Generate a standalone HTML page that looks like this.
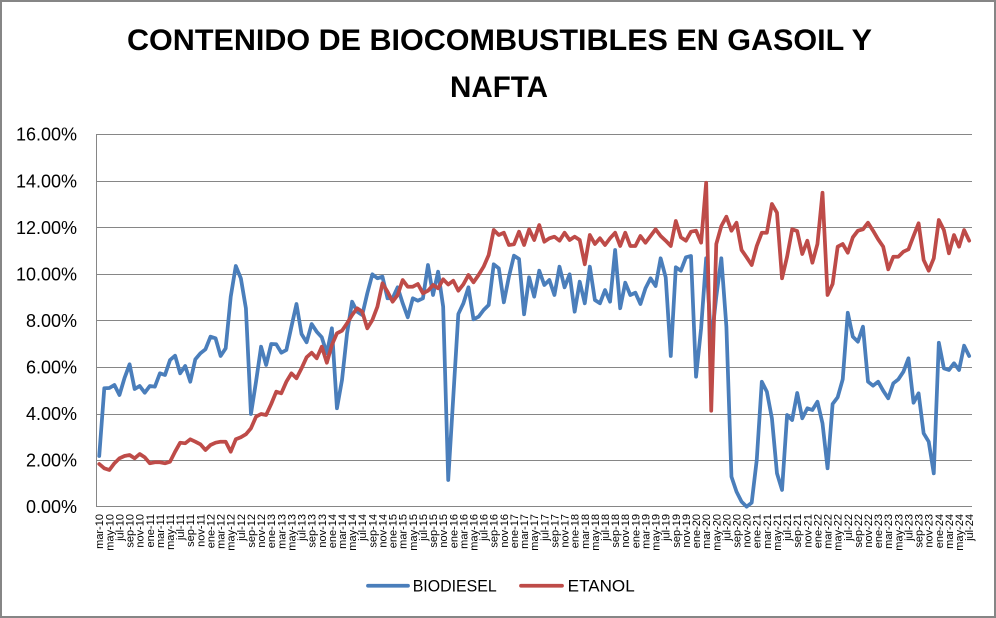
<!DOCTYPE html>
<html>
<head>
<meta charset="utf-8">
<style>
html,body{margin:0;padding:0;background:#fff;}
#c{position:relative;width:996px;height:618px;overflow:hidden;background:#fff;}
svg{position:absolute;left:0;top:0;}
</style>
</head>
<body>
<div id="c">
<svg width="996" height="618" viewBox="0 0 996 618" xmlns="http://www.w3.org/2000/svg">
<rect x="1" y="1" width="994" height="616" fill="#fff" stroke="#868686" stroke-width="2"/>
<g font-family="Liberation Sans, Arial, sans-serif" font-weight="bold" font-size="30" fill="#000" text-anchor="middle">
<text x="499.5" y="50" textLength="745" lengthAdjust="spacingAndGlyphs">CONTENIDO DE BIOCOMBUSTIBLES EN GASOIL Y</text>
<text x="499" y="97" textLength="98" lengthAdjust="spacingAndGlyphs">NAFTA</text>
</g>
<g stroke="#868686" stroke-width="1" shape-rendering="crispEdges">
<line x1="96.5" y1="134.5" x2="972" y2="134.5"/>
<line x1="96.5" y1="181.5" x2="972" y2="181.5"/>
<line x1="96.5" y1="227.5" x2="972" y2="227.5"/>
<line x1="96.5" y1="274.5" x2="972" y2="274.5"/>
<line x1="96.5" y1="320.5" x2="972" y2="320.5"/>
<line x1="96.5" y1="367.5" x2="972" y2="367.5"/>
<line x1="96.5" y1="414.5" x2="972" y2="414.5"/>
<line x1="96.5" y1="460.5" x2="972" y2="460.5"/>
<line x1="96.5" y1="506.5" x2="972" y2="506.5"/>
<line x1="96.5" y1="134" x2="96.5" y2="507"/>
</g>
<g font-family="Liberation Sans, Arial, sans-serif" font-size="18" fill="#000" text-anchor="end">
<text x="77" y="140.7">16.00%</text>
<text x="77" y="187.3">14.00%</text>
<text x="77" y="233.8">12.00%</text>
<text x="77" y="280.4">10.00%</text>
<text x="77" y="326.9">8.00%</text>
<text x="77" y="373.5">6.00%</text>
<text x="77" y="420">4.00%</text>
<text x="77" y="466.6">2.00%</text>
<text x="77" y="513.1">0.00%</text>
</g>
<g font-family="Liberation Sans, Arial, sans-serif" font-size="11" fill="#000" text-anchor="end">
<text transform="translate(103.2,514) rotate(-90)">mar-10</text>
<text transform="translate(113.3,514) rotate(-90)">may-10</text>
<text transform="translate(123.5,514) rotate(-90)">jul-10</text>
<text transform="translate(133.6,514) rotate(-90)">sep-10</text>
<text transform="translate(143.7,514) rotate(-90)">nov-10</text>
<text transform="translate(153.8,514) rotate(-90)">ene-11</text>
<text transform="translate(163.9,514) rotate(-90)">mar-11</text>
<text transform="translate(174.0,514) rotate(-90)">may-11</text>
<text transform="translate(184.1,514) rotate(-90)">jul-11</text>
<text transform="translate(194.2,514) rotate(-90)">sep-11</text>
<text transform="translate(204.4,514) rotate(-90)">nov-11</text>
<text transform="translate(214.5,514) rotate(-90)">ene-12</text>
<text transform="translate(224.6,514) rotate(-90)">mar-12</text>
<text transform="translate(234.7,514) rotate(-90)">may-12</text>
<text transform="translate(244.8,514) rotate(-90)">jul-12</text>
<text transform="translate(254.9,514) rotate(-90)">sep-12</text>
<text transform="translate(265.1,514) rotate(-90)">nov-12</text>
<text transform="translate(275.2,514) rotate(-90)">ene-13</text>
<text transform="translate(285.3,514) rotate(-90)">mar-13</text>
<text transform="translate(295.4,514) rotate(-90)">may-13</text>
<text transform="translate(305.5,514) rotate(-90)">jul-13</text>
<text transform="translate(315.6,514) rotate(-90)">sep-13</text>
<text transform="translate(325.8,514) rotate(-90)">nov-13</text>
<text transform="translate(335.9,514) rotate(-90)">ene-14</text>
<text transform="translate(346.0,514) rotate(-90)">mar-14</text>
<text transform="translate(356.1,514) rotate(-90)">may-14</text>
<text transform="translate(366.2,514) rotate(-90)">jul-14</text>
<text transform="translate(376.3,514) rotate(-90)">sep-14</text>
<text transform="translate(386.4,514) rotate(-90)">nov-14</text>
<text transform="translate(396.6,514) rotate(-90)">ene-15</text>
<text transform="translate(406.7,514) rotate(-90)">mar-15</text>
<text transform="translate(416.8,514) rotate(-90)">may-15</text>
<text transform="translate(426.9,514) rotate(-90)">jul-15</text>
<text transform="translate(437.0,514) rotate(-90)">sep-15</text>
<text transform="translate(447.1,514) rotate(-90)">nov-15</text>
<text transform="translate(457.3,514) rotate(-90)">ene-16</text>
<text transform="translate(467.4,514) rotate(-90)">mar-16</text>
<text transform="translate(477.5,514) rotate(-90)">may-16</text>
<text transform="translate(487.6,514) rotate(-90)">jul-16</text>
<text transform="translate(497.7,514) rotate(-90)">sep-16</text>
<text transform="translate(507.8,514) rotate(-90)">nov-16</text>
<text transform="translate(518.0,514) rotate(-90)">ene-17</text>
<text transform="translate(528.1,514) rotate(-90)">mar-17</text>
<text transform="translate(538.2,514) rotate(-90)">may-17</text>
<text transform="translate(548.3,514) rotate(-90)">jul-17</text>
<text transform="translate(558.4,514) rotate(-90)">sep-17</text>
<text transform="translate(568.5,514) rotate(-90)">nov-17</text>
<text transform="translate(578.7,514) rotate(-90)">ene-18</text>
<text transform="translate(588.8,514) rotate(-90)">mar-18</text>
<text transform="translate(598.9,514) rotate(-90)">may-18</text>
<text transform="translate(609.0,514) rotate(-90)">jul-18</text>
<text transform="translate(619.1,514) rotate(-90)">sep-18</text>
<text transform="translate(629.2,514) rotate(-90)">nov-18</text>
<text transform="translate(639.4,514) rotate(-90)">ene-19</text>
<text transform="translate(649.5,514) rotate(-90)">mar-19</text>
<text transform="translate(659.6,514) rotate(-90)">may-19</text>
<text transform="translate(669.7,514) rotate(-90)">jul-19</text>
<text transform="translate(679.8,514) rotate(-90)">sep-19</text>
<text transform="translate(689.9,514) rotate(-90)">nov-19</text>
<text transform="translate(700.0,514) rotate(-90)">ene-20</text>
<text transform="translate(710.2,514) rotate(-90)">mar-20</text>
<text transform="translate(720.3,514) rotate(-90)">may-20</text>
<text transform="translate(730.4,514) rotate(-90)">jul-20</text>
<text transform="translate(740.5,514) rotate(-90)">sep-20</text>
<text transform="translate(750.6,514) rotate(-90)">nov-20</text>
<text transform="translate(760.7,514) rotate(-90)">ene-21</text>
<text transform="translate(770.9,514) rotate(-90)">mar-21</text>
<text transform="translate(781.0,514) rotate(-90)">may-21</text>
<text transform="translate(791.1,514) rotate(-90)">jul-21</text>
<text transform="translate(801.2,514) rotate(-90)">sep-21</text>
<text transform="translate(811.3,514) rotate(-90)">nov-21</text>
<text transform="translate(821.4,514) rotate(-90)">ene-22</text>
<text transform="translate(831.6,514) rotate(-90)">mar-22</text>
<text transform="translate(841.7,514) rotate(-90)">may-22</text>
<text transform="translate(851.8,514) rotate(-90)">jul-22</text>
<text transform="translate(861.9,514) rotate(-90)">sep-22</text>
<text transform="translate(872.0,514) rotate(-90)">nov-22</text>
<text transform="translate(882.1,514) rotate(-90)">ene-23</text>
<text transform="translate(892.2,514) rotate(-90)">mar-23</text>
<text transform="translate(902.4,514) rotate(-90)">may-23</text>
<text transform="translate(912.5,514) rotate(-90)">jul-23</text>
<text transform="translate(922.6,514) rotate(-90)">sep-23</text>
<text transform="translate(932.7,514) rotate(-90)">nov-23</text>
<text transform="translate(942.8,514) rotate(-90)">ene-24</text>
<text transform="translate(952.9,514) rotate(-90)">mar-24</text>
<text transform="translate(963.1,514) rotate(-90)">may-24</text>
<text transform="translate(973.2,514) rotate(-90)">jul-24</text>
</g>
<g transform="matrix(5.0578,0,0,1,99.23,0)" fill="none" stroke-width="3.75" stroke-linejoin="round" stroke-linecap="round">
<polyline vector-effect="non-scaling-stroke" stroke="#4A7EBB" points="0,456 1,388.3 2,388 3,385 4,395 5,378 6,364.3 7,389 8,386 9,392.7 10,386 11,386.7 12,373.3 13,375 14,360 15,355.7 16,373.3 17,366 18,381.7 19,359.3 20,353.3 21,349.3 22,336.7 23,338.3 24,356 25,348.3 26,296.7 27,266 28,278.3 29,308.3 30,414 31,381.7 32,346.7 33,365 34,344 35,344.3 36,352.7 37,350 38,326.7 39,304 40,334 41,342.3 42,324 43,331.7 44,337.3 45,353.3 46,328.3 47,408.3 48,380 49,333.3 50,301.7 51,311.7 52,315 53,293.3 54,274.3 55,278.3 56,276.7 57,298.3 58,298.3 59,287.3 60,303.3 61,317.3 62,298.3 63,300.7 64,298.3 65,265 66,295 67,271.7 68,306.7 69,480 70,397 71,314 72,303.3 73,287.3 74,319.3 75,316.7 76,310 77,305 78,264.3 79,268.3 80,302.3 81,276.7 82,255.7 83,259 84,314.3 85,277.3 86,296.7 87,270.7 88,285 89,280 90,295 91,266.7 92,287.3 93,274.3 94,311.7 95,281.7 96,303.3 97,266.7 98,300 99,303.3 100,290 101,301.7 102,250 103,308.3 104,282.7 105,295 106,292.7 107,304 108,288.3 109,278.3 110,286 111,258.3 112,277.3 113,356 114,267.3 115,270.7 116,257.3 117,256 118,376.7 119,328.3 120,258.3 121,343 122,296.7 123,258.3 124,326.7 125,476.7 126,491.7 127,501.7 128,506.7 129,502.7 130,460 131,381.7 132,391.7 133,418.3 134,473.3 135,490 136,415 137,420 138,393 139,418.3 140,408.3 141,410 142,401.7 143,423.3 144,468.3 145,404 146,397.3 147,379.3 148,312.7 149,336.7 150,341.7 151,326.7 152,381.7 153,385.7 154,381.7 155,390.7 156,398.3 157,383.3 158,379.3 159,371.7 160,358.3 161,402.7 162,393.3 163,433.3 164,441.7 165,473.3 166,342.7 167,368.3 168,370 169,363.3 170,370 171,345.7 172,356"/>
<polyline vector-effect="non-scaling-stroke" stroke="#BE4B48" points="0,464 1,468.3 2,470 3,463.3 4,458.3 5,456 6,455 7,458.3 8,454 9,457.3 10,463.3 11,462.3 12,462.3 13,463.3 14,461.7 15,451.7 16,442.7 17,443.3 18,439.3 19,441.7 20,444.3 21,450 22,445 23,442.7 24,441.7 25,441.7 26,451.7 27,439.3 28,437.3 29,434.3 30,428.3 31,416.7 32,414 33,415 34,404 35,391.7 36,393.3 37,381.7 38,373.3 39,378.3 40,368.3 41,357.3 42,352.7 43,358.3 44,346.7 45,362.7 46,345 47,333.3 48,330.7 49,323.3 50,315 51,308.3 52,311.7 53,328.3 54,320 55,306.7 56,283.3 57,291.7 58,301.7 59,295 60,280 61,286.7 62,286.7 63,284 64,293.3 65,290.7 66,285 67,288.3 68,279.3 69,284.5 70,280.7 71,290.7 72,284.3 73,275 74,282.3 75,275 76,266.7 77,255 78,230 79,235 80,232.7 81,245 82,244.3 83,231.7 84,245 85,229.3 86,240 87,225 88,241.7 89,238.3 90,236.7 91,240.7 92,232.7 93,240 94,236.7 95,240 96,264.3 97,235 98,244 99,238.3 100,245 101,238.3 102,232.7 103,246 104,232.7 105,246 106,246 107,236 108,242.7 109,236 110,229.3 111,236 112,240.7 113,246 114,221 115,237.3 116,240.7 117,231.7 118,230.7 119,242.7 120,182.7 121,410.7 122,244 123,226 124,216.7 125,230.7 126,222.7 127,250 128,257.3 129,265 130,246 131,232.7 132,232.7 133,204 134,212.7 135,278.3 136,256.7 137,229.3 138,231 139,254 140,240.7 141,262.7 142,244 143,192.7 144,295 145,284 146,246.7 147,244 148,252.7 149,237.3 150,230.7 151,229.3 152,222.7 153,230.7 154,239.3 155,246.7 156,269.3 157,256.7 158,256.7 159,251.7 160,249.3 161,236 162,223.3 163,260 164,270.7 165,258.3 166,220 167,230 168,253.3 169,235 170,246.7 171,230 172,240.7"/>
</g>
<g stroke-width="3.75" stroke-linecap="round">
<line x1="368" y1="585.7" x2="408" y2="585.7" stroke="#4A7EBB"/>
<line x1="521" y1="585.7" x2="562" y2="585.7" stroke="#BE4B48"/>
</g>
<g font-family="Liberation Sans, Arial, sans-serif" font-size="16.5" fill="#000">
<text x="412.7" y="591.7" textLength="84" lengthAdjust="spacingAndGlyphs">BIODIESEL</text>
<text x="567.7" y="591.7" textLength="67" lengthAdjust="spacingAndGlyphs">ETANOL</text>
</g>
</svg>
</div>
</body>
</html>
